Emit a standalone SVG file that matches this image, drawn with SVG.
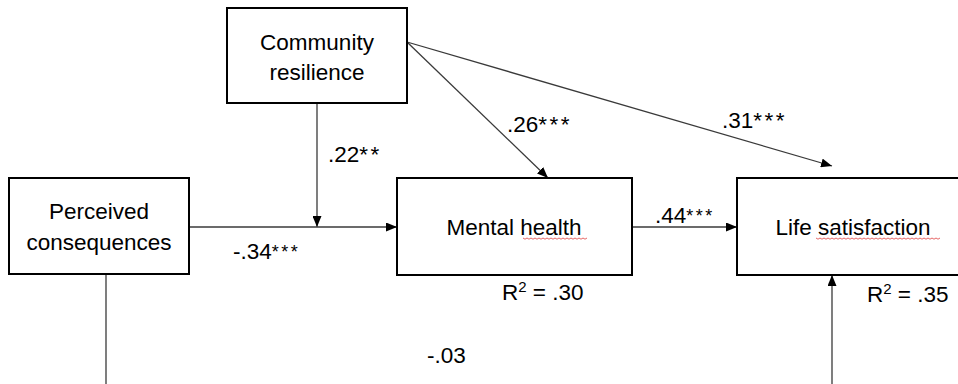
<svg xmlns="http://www.w3.org/2000/svg" width="958" height="384" viewBox="0 0 958 384">
<style>
.box{fill:#fff;stroke:#000;stroke-width:2}
.t{font-family:"Liberation Sans",Arial,sans-serif;font-size:22.5px;fill:#000}
.c{text-anchor:middle}
.ln{stroke:#3a3a3a;stroke-width:1.3;fill:none}
.sq{stroke:#e04040;stroke-width:0.8;fill:none}
.sm{font-size:15px}
.st{letter-spacing:2.5px}
.ss{font-size:18px;letter-spacing:2.5px}
</style>
<defs>
<marker id="ah" markerUnits="userSpaceOnUse" markerWidth="11" markerHeight="9" refX="11" refY="4.5" orient="auto">
<path d="M0,0 L11,4.5 L0,9 z" fill="#000"/>
</marker>
</defs>
<rect width="958" height="384" fill="#fff"/>
<g id="connectors">
<line class="ln" x1="317" y1="103" x2="317" y2="227" marker-end="url(#ah)"/>
<line class="ln" x1="189" y1="227" x2="397" y2="227" marker-end="url(#ah)"/>
<line class="ln" x1="407" y1="42" x2="548" y2="178" marker-end="url(#ah)"/>
<line class="ln" x1="407" y1="42" x2="832" y2="166" marker-end="url(#ah)"/>
<line class="ln" x1="632" y1="227" x2="737" y2="227" marker-end="url(#ah)"/>
<line class="ln" x1="106" y1="274" x2="106" y2="384" stroke="#777"/>
<line class="ln" x1="832" y1="384" x2="832" y2="275" marker-end="url(#ah)"/>
</g>
<g id="node-community">
<rect class="box" x="227" y="8" width="180" height="95"/>
<text class="t c" x="317" y="50">Community</text>
<text class="t c" x="317" y="80">resilience</text>
</g>
<g id="node-perceived">
<rect class="box" x="9" y="178" width="180" height="96"/>
<text class="t c" x="99" y="219">Perceived</text>
<text class="t c" x="99" y="250">consequences</text>
</g>
<g id="node-mental">
<rect class="box" x="397" y="178" width="235" height="97"/>
<text class="t c" x="514" y="235">Mental health</text>
<path class="sq" d="M523,238 l2,1.2 l2,-1.2 l2,1.2 l2,-1.2 l2,1.2 l2,-1.2 l2,1.2 l2,-1.2 l2,1.2 l2,-1.2 l2,1.2 l2,-1.2 l2,1.2 l2,-1.2 l2,1.2 l2,-1.2 l2,1.2 l2,-1.2 l2,1.2 l2,-1.2 l2,1.2 l2,-1.2 l2,1.2 l2,-1.2 l2,1.2 l2,-1.2 l2,1.2 l2,-1.2 l2,1.2 l2,-1.2 l2,1.2 l2,-1.2"/>
<text class="t" x="502" y="300">R<tspan class="sm" dy="-8">2</tspan><tspan dy="8"> = .30</tspan></text>
</g>
<g id="node-life">
<rect class="box" x="737" y="178" width="232" height="97"/>
<text class="t c" x="853" y="235">Life satisfaction</text>
<path class="sq" d="M816,238 l2,1.2 l2,-1.2 l2,1.2 l2,-1.2 l2,1.2 l2,-1.2 l2,1.2 l2,-1.2 l2,1.2 l2,-1.2 l2,1.2 l2,-1.2 l2,1.2 l2,-1.2 l2,1.2 l2,-1.2 l2,1.2 l2,-1.2 l2,1.2 l2,-1.2 l2,1.2 l2,-1.2 l2,1.2 l2,-1.2 l2,1.2 l2,-1.2 l2,1.2 l2,-1.2 l2,1.2 l2,-1.2 l2,1.2 l2,-1.2 l2,1.2 l2,-1.2 l2,1.2 l2,-1.2 l2,1.2 l2,-1.2 l2,1.2 l2,-1.2 l2,1.2 l2,-1.2 l2,1.2 l2,-1.2 l2,1.2 l2,-1.2 l2,1.2 l2,-1.2 l2,1.2 l2,-1.2 l2,1.2 l2,-1.2 l2,1.2 l2,-1.2 l2,1.2 l2,-1.2 l2,1.2 l2,-1.2 l2,1.2 l2,-1.2 l2,1.2 l2,-1.2"/>
<text class="t" x="867" y="302">R<tspan class="sm" dy="-8">2</tspan><tspan dy="8"> = .35</tspan></text>
</g>
<g id="labels">
<text class="t" x="328" y="162">.22<tspan class="st">**</tspan></text>
<text class="t" x="507" y="132">.26<tspan class="st">***</tspan></text>
<text class="t" x="722" y="128">.31<tspan class="st">***</tspan></text>
<text class="t" x="655" y="223">.44<tspan class="ss" dy="-1">***</tspan></text>
<text class="t" x="233" y="259">-.34<tspan class="ss" dy="-1">***</tspan></text>
<text class="t" x="427" y="363">-.03</text>
</g>
</svg>
